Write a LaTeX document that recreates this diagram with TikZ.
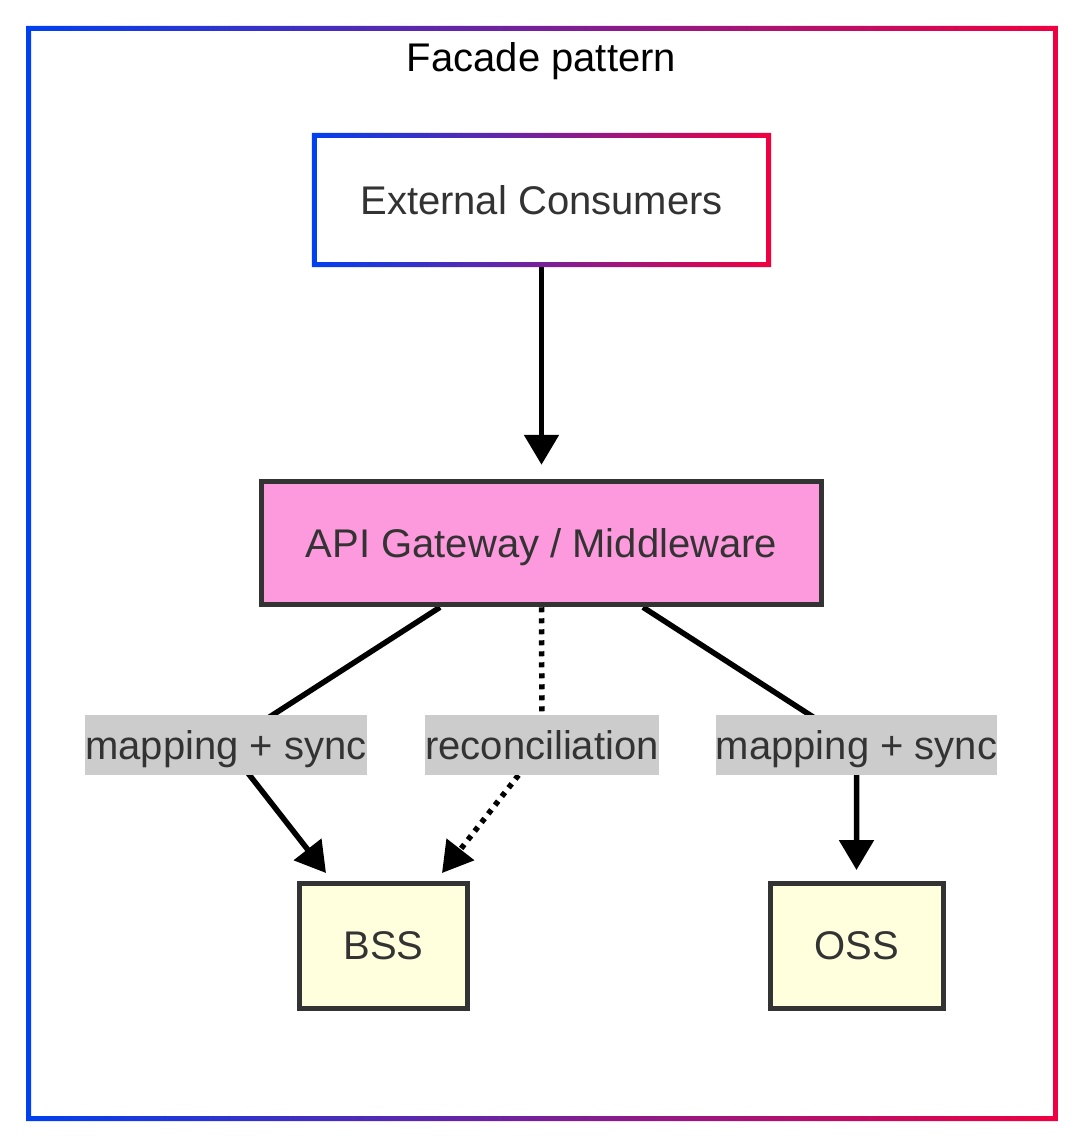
\documentclass[tikz,border=0pt]{standalone}
\usepackage{fontspec}
\setmainfont{Liberation Sans}
\usetikzlibrary{arrows.meta,calc}
\pgfdeclarelayer{canvas}
\pgfdeclarelayer{edges}
\pgfsetlayers{canvas,edges,main}
\definecolor{gblue}{RGB}{0,64,240}
\definecolor{gred}{RGB}{240,0,64}
\definecolor{txt}{HTML}{333333}
\definecolor{pinkfill}{HTML}{FD99DD}
\definecolor{yelfill}{HTML}{FFFFDE}
\definecolor{labbg}{HTML}{CCCCCC}
\begin{document}
\begin{tikzpicture}[x=1pt,y=-1pt,
  font=\fontsize{40}{48}\selectfont,
  box/.style={draw=txt, line width=5pt, text=txt, inner sep=0pt, text depth=0pt},
  elabel/.style={fill=labbg, text=txt, inner sep=0pt, text depth=0pt, minimum height=60pt},
  edge/.style={line width=5.5pt, -{Triangle[length=30pt,width=34pt]}},
  dotedge/.style={edge, dash pattern=on 5pt off 6pt},
]
\useasboundingbox (0,0) rectangle (1084,1147);
\begin{pgfonlayer}{canvas}
\fill[white] (0,0) rectangle (1084,1147);
% outer frame
\shade[left color=gblue, right color=gred, even odd rule]
  (26,26) rectangle (1058,1121) (31,31) rectangle (1053,1116);
\end{pgfonlayer}
\node[anchor=base, inner sep=0pt] (title) at (541.5,72) {Facade pattern};

% nodes
\node[fill=white, text=txt, inner sep=0pt, text depth=0pt,
      minimum width=449pt, minimum height=124pt] (ext) at (541.5,200) {External Consumers};
\shade[left color=gblue, right color=gred, even odd rule]
  ($(ext.north west)+(-5,-5)$) rectangle ($(ext.south east)+(5,5)$)
  (ext.north west) rectangle (ext.south east);
\node[box, fill=pinkfill, minimum width=560pt, minimum height=123.5pt] (api) at (541.5,543) {API Gateway / Middleware};
\node[box, fill=yelfill, minimum width=168pt, minimum height=125pt] (bss) at (383.5,946) {BSS};
\node[box, fill=yelfill, minimum width=173pt, minimum height=125pt] (oss) at (857,946) {OSS};

% edge labels
\node[elabel, minimum width=280pt] (l1) at (226,745) {mapping + sync};
\node[elabel, minimum width=234pt] (l2) at (542,745) {reconciliation};
\node[elabel, minimum width=281pt] (l3) at (856.5,745) {mapping + sync};

% edges
\begin{pgfonlayer}{edges}
\draw[edge] (ext.south) -- ($(api.north)+(0,-14)$);
\draw[edge] ($(api.south)+(-101.5,0)$) -- (l1.center) -- ($(bss.north)+(-57.5,-8)$);
\draw[dotedge] (api.south) -- (l2.center) -- ($(bss.north)+(58.5,-8)$);
\draw[edge] ($(api.south)+(101.5,0)$) -- (l3.center) -- ($(l3.center |- oss.north)+(0,-11)$);
\end{pgfonlayer}
\end{tikzpicture}
\end{document}
